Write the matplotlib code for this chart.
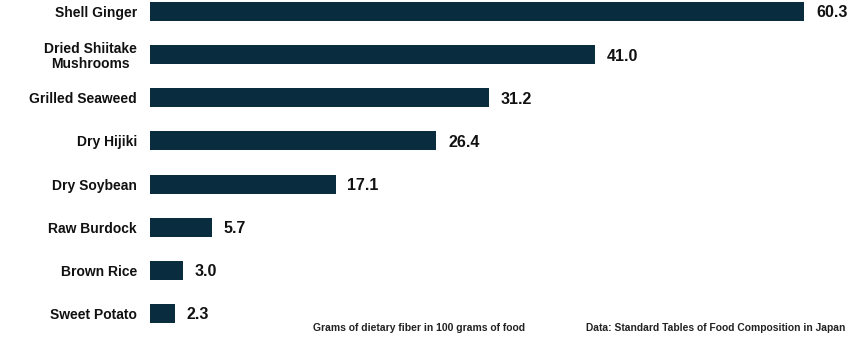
import matplotlib
matplotlib.use("Agg")
import matplotlib.pyplot as plt

categories = ["Shell Ginger", "Dried Shiitake\nMushrooms", "Grilled Seaweed", "Dry Hijiki",
              "Dry Soybean", "Raw Burdock", "Brown Rice", "Sweet Potato"]
values = [60.3, 41.0, 31.2, 26.4, 17.1, 5.7, 3.0, 2.3]
value_labels = ["60.3", "41.0", "31.2", "26.4", "17.1", "5.7", "3.0", "2.3"]

plt.rcParams['font.family'] = ['Liberation Sans', 'DejaVu Sans']

W, H = 850, 339
fig = plt.figure(figsize=(W / 100, H / 100), dpi=100)
ax = fig.add_axes([150 / W, 0, 700 / W, 1])

bar_color = "#0a2c3f"
pos = list(range(len(categories)))
ax.barh(pos, values, height=0.44, color=bar_color)

ax.set_xlim(0, 700 / 10.85)
ax.set_ylim((H - 11.5) / 43.14, -11.5 / 43.14)

ax.set_yticks(pos)
ax.set_yticklabels(categories, fontsize=10, fontweight='bold', color='#111111',
                   multialignment='center', linespacing=1.1)
ax.tick_params(axis='y', length=0, pad=9.5)
ax.set_xticks([])
for s in ax.spines.values():
    s.set_visible(False)

for p, v, lab in zip(pos, values, value_labels):
    ax.annotate(lab, xy=(v, p), xytext=(8.5, -1), textcoords='offset points',
                ha='left', va='center', fontsize=11.5, fontweight='bold', color='#111111')

fig.text(313 / W, 1 - 328 / H, "Grams of dietary fiber in 100 grams of food",
         fontsize=7.5, fontweight='bold', color='#222222', ha='left', va='center')
fig.text(845 / W, 1 - 328 / H, "Data: Standard Tables of Food Composition in Japan",
         fontsize=7.4, fontweight='bold', color='#222222', ha='right', va='center')

fig.savefig("out.png", dpi=100)
